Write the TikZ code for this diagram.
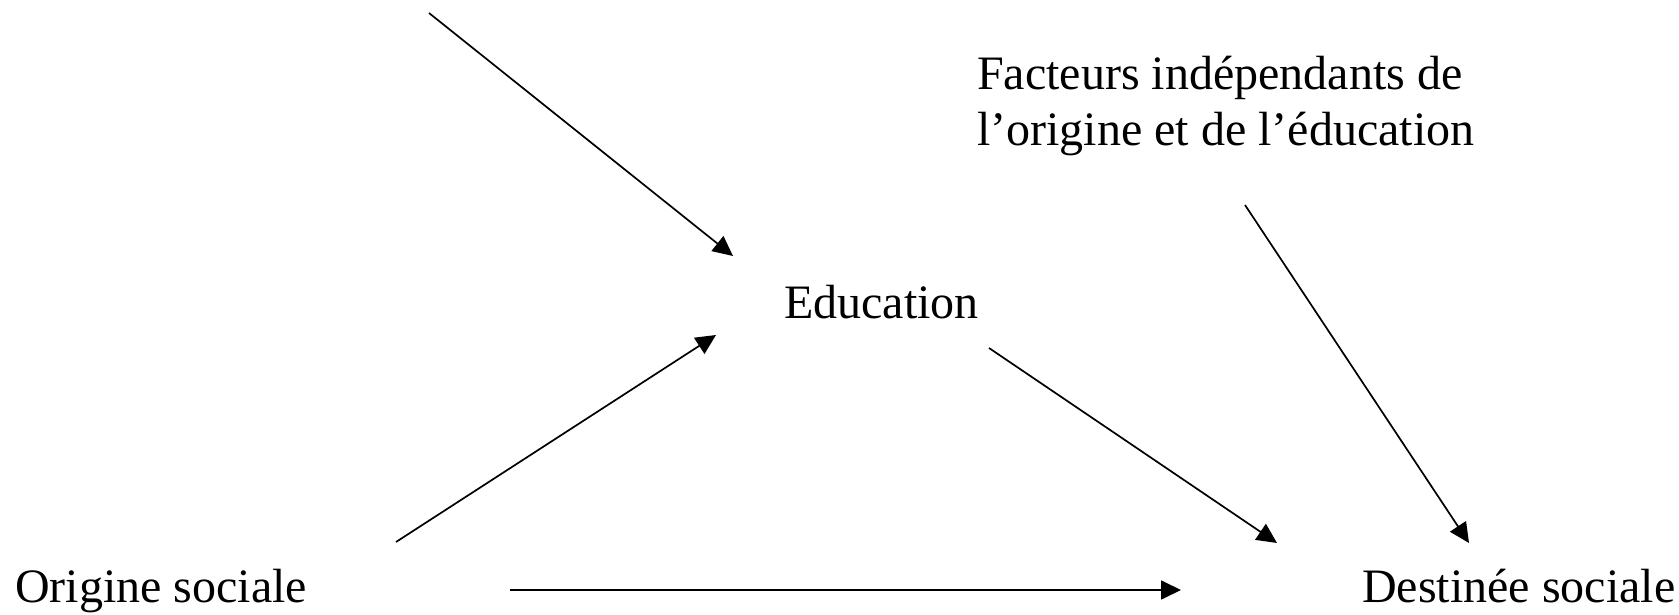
\documentclass[tikz,border=0pt]{standalone}
\usepackage{fontspec}
\setmainfont{Liberation Serif}
\usetikzlibrary{arrows.meta}
\begin{document}
\begin{tikzpicture}[x=1pt,y=-1pt,
  lbl/.style={inner sep=0pt, anchor=base west, font=\fontsize{48}{56}\selectfont},
  conn/.style={line width=1.7pt, -{Triangle[length=20pt,width=19pt]}}]
\useasboundingbox (0,0) rectangle (1679,615);
\node[lbl] (edu) at (784,318) {Education};
\node[lbl] (fac1) at (977,90) {Facteurs indépendants de};
\node[lbl] (fac2) at (977,146) {l’origine et de l’éducation};
\node[lbl] (ori) at (15,602) {Origine sociale};
\node[lbl] (des) at (1362,602) {Destinée sociale};
\coordinate (a1s) at (429,13);  \coordinate (a1e) at (733,256);
\coordinate (a2s) at (396,542); \coordinate (a2e) at (716,335);
\coordinate (a3s) at (989,348); \coordinate (a3e) at (1277,543);
\coordinate (a4s) at (1245,205);\coordinate (a4e) at (1469,543);
\coordinate (a5s) at (510,590); \coordinate (a5e) at (1181,590);
\draw[conn] (a1s) -- (a1e);
\draw[conn] (a2s) -- (a2e);
\draw[conn] (a3s) -- (a3e);
\draw[conn] (a4s) -- (a4e);
\draw[conn] (a5s) -- (a5e);
\end{tikzpicture}
\end{document}
